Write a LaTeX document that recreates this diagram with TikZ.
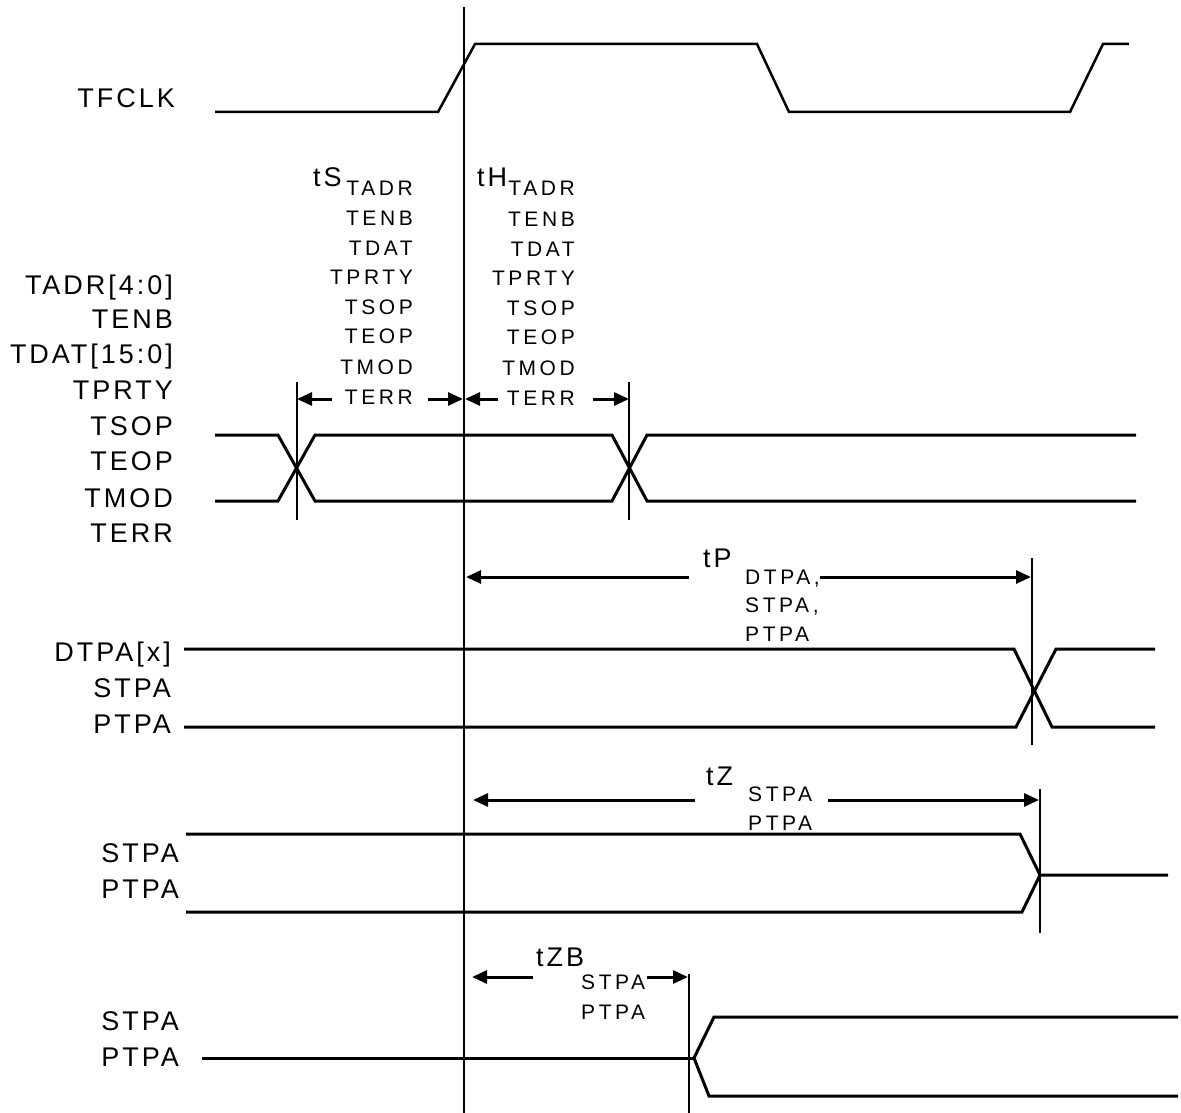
\documentclass[tikz,border=0pt]{standalone}
\usepackage{fontspec}
\setmainfont{Liberation Sans}
\newfontfamily\lspfont[LetterSpace=11]{Liberation Sans}
\newfontfamily\subfont[LetterSpace=17]{Liberation Sans}
\usetikzlibrary{arrows.meta}
\tikzset{
  wave/.style={line width=3pt, line join=miter, line cap=butt},
  clk/.style={line width=2.5pt, line join=miter},
  vline/.style={line width=2.3pt},
  dimarrow/.style={line width=3pt, -{Triangle[length=15pt,width=13pt]}},
  siglabel/.style={font=\lspfont\fontsize{27}{27}\selectfont, anchor=base east, inner sep=0pt},
  biglabel/.style={font=\lspfont\fontsize{27}{27}\selectfont, anchor=base west, inner sep=0pt},
  subr/.style={font=\subfont\fontsize{21}{21}\selectfont, anchor=base east, inner sep=0pt},
  subl/.style={font=\subfont\fontsize{21}{21}\selectfont, anchor=base west, inner sep=0pt}
}
\begin{document}
\begin{tikzpicture}[x=1pt,y=-1pt]
\useasboundingbox (0,0) rectangle (1181,1113);

% ---------------- labels on the left
\node[siglabel] (lclk) at (175,108) {TFCLK};
\node[siglabel] (l1) at (173,294) {TADR[4:0]};
\node[siglabel] (l2) at (173,328) {TENB};
\node[siglabel] (l3) at (173,363) {TDAT[15:0]};
\node[siglabel] (l4) at (173,399) {TPRTY};
\node[siglabel] (l5) at (173,435) {TSOP};
\node[siglabel] (l6) at (173,470) {TEOP};
\node[siglabel] (l7) at (173,507) {TMOD};
\node[siglabel] (l8) at (173,542) {TERR};
\node[siglabel] (l9) at (171,661) {DTPA[x]};
\node[siglabel] (l10) at (171,697) {STPA};
\node[siglabel] (l11) at (171,733) {PTPA};
\node[siglabel] (l12) at (179,862) {STPA};
\node[siglabel] (l13) at (179,898) {PTPA};
\node[siglabel] (l14) at (179,1030) {STPA};
\node[siglabel] (l15) at (179,1066) {PTPA};

% ---------------- reference and tick lines
\coordinate (mtop) at (464,7);
\coordinate (mbot) at (464,1113);
\draw[vline] (mtop) -- (mbot);
\coordinate (t1a) at (297,382); \coordinate (t1b) at (297,520);
\coordinate (t2a) at (629,382); \coordinate (t2b) at (629,520);
\coordinate (t3a) at (1032,558); \coordinate (t3b) at (1032,745);
\coordinate (t4a) at (1040,789); \coordinate (t4b) at (1040,933);
\coordinate (t5a) at (689,974); \coordinate (t5b) at (689,1113);
\draw[vline] (t1a) -- (t1b);
\draw[vline] (t2a) -- (t2b);
\draw[vline] (t3a) -- (t3b);
\draw[vline] (t4a) -- (t4b);
\draw[vline] (t5a) -- (t5b);

% ---------------- TFCLK
\draw[clk] (215,112) -- (438,112) -- (475,44) -- (757,44) -- (789,112) -- (1070,112) -- (1103,44) -- (1129,44);

% ---------------- bus 1
\draw[wave] (215,435) -- (278,435) -- (315,501) -- (612,501) -- (647,435) -- (1136,435);
\draw[wave] (215,501) -- (278,501) -- (315,435) -- (612,435) -- (647,501) -- (1136,501);

% setup / hold labels
\node[biglabel] (ts) at (313,186) {tS};
\node[biglabel] (th) at (477,186) {tH};
\foreach \n/\t/\yy in {1/TADR/195, 2/TENB/225, 3/TDAT/255, 4/TPRTY/284, 5/TSOP/314, 6/TEOP/343, 7/TMOD/374, 8/TERR/404}{
  \node[subr] (sa\n) at (413,\yy) {\t};
  \node[subr] (sb\n) at (575,\yy+1) {\t};
}
\coordinate (a1) at (332,399); \coordinate (a2) at (428,399);
\coordinate (a3) at (498,399); \coordinate (a4) at (593,399);
\draw[dimarrow] (a1) -- (297,399);
\draw[dimarrow] (a2) -- (463,399);
\draw[dimarrow] (a3) -- (465,399);
\draw[dimarrow] (a4) -- (629,399);

% ---------------- DTPA bus
\draw[wave] (184,649) -- (1014,649) -- (1052,727) -- (1155,727);
\draw[wave] (184,727) -- (1016,727) -- (1056,649) -- (1155,649);
\node[biglabel] (tp) at (703,567) {tP};
\node[subl] (tp1) at (745,584) {DTPA,};
\node[subl] (tp2) at (745,612) {STPA,};
\node[subl] (tp3) at (745,641) {PTPA};
\draw[dimarrow] (689,577) -- (466,577);
\draw[dimarrow] (820,577) -- (1031,577);

% ---------------- tZ bus
\draw[wave] (186,834) -- (1020,834) -- (1040,875) -- (1168,875);
\draw[wave] (186,912) -- (1022,912) -- (1040,875);
\node[biglabel] (tz) at (706,785) {tZ};
\node[subl] (tz1) at (748,801) {STPA};
\node[subl] (tz2) at (748,830) {PTPA};
\draw[dimarrow] (695,800) -- (473,800);
\draw[dimarrow] (828,800) -- (1039,800);

% ---------------- tZB bus
\draw[wave] (202,1058) -- (694,1058);
\draw[wave] (1178,1017) -- (714,1017) -- (694,1058) -- (709,1096) -- (1178,1096);
\node[biglabel] (tzb) at (536,966) {tZB};
\node[subl] (tzb1) at (581,989) {STPA};
\node[subl] (tzb2) at (581,1019) {PTPA};
\draw[dimarrow] (533,977) -- (472,977);
\draw[dimarrow] (647,977) -- (688,977);
\end{tikzpicture}
\end{document}
